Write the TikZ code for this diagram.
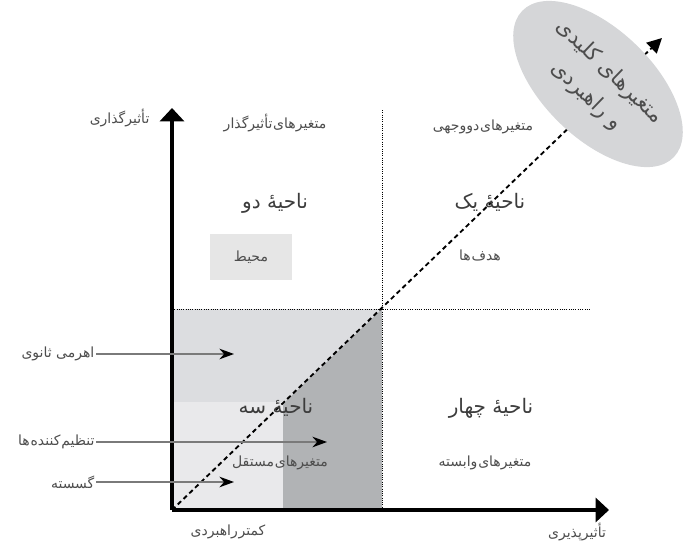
\documentclass[tikz,border=0pt]{standalone}
\usepackage{fontspec}
\newfontfamily\fa[Script=Arabic]{DejaVu Sans}
\TeXXeTstate=1
\usetikzlibrary{arrows.meta,shapes.geometric}
\definecolor{bandgray}{HTML}{DCDDE0}
\definecolor{palegray}{HTML}{E9E9EB}
\definecolor{deepgray}{HTML}{B1B3B5}
\definecolor{boxgray}{HTML}{E6E6E6}
\definecolor{ovalgray}{HTML}{D5D6D8}
\definecolor{inkgray}{HTML}{4D4D4D}
\definecolor{zonegray}{HTML}{3C3C3C}
\definecolor{wiregray}{HTML}{7A7A7A}
\begin{document}
\begin{tikzpicture}[x=0.75pt,y=-0.75pt,
  lbl/.style={font=\fa\fontsize{10.5}{12}\selectfont,text=inkgray,inner sep=1pt},
  zone/.style={font=\fa\fontsize{15}{17}\selectfont,text=zonegray},
  axis/.style={line width=2.3pt,-{Triangle[width=18pt,length=10pt]}},
  quad/.style={densely dotted,line width=0.7pt},
  pointer/.style={draw=wiregray,line width=0.8pt,-{Stealth[length=11pt,width=8pt,color=black]}}]
\useasboundingbox (0,0) rectangle (683,544);
\coordinate (O) at (172,510);
\coordinate (M) at (382,309);
\coordinate (yTip) at (172,108);
\coordinate (xTip) at (609,510);
\coordinate (dTip) at (662,38);
% shaded corner
\fill[bandgray] (O |- M) rectangle (382,402);
\fill[palegray] (172,402) rectangle (283,510);
\fill[deepgray] (M) -- (283,404) -- (283,510) -- (382,510) -- cycle;
% quadrant lines
\draw[quad] (382,110) -- (382,510);
\draw[quad] (O |- M) -- (590,309);
% diagonal
\draw[line width=1.4pt,dash pattern=on 3.5pt off 2.5pt,-{Triangle[width=11pt,length=11pt]}] (O) -- (dTip);
% axes
\draw[axis] (O) -- (yTip);
\draw[axis] (O) -- (xTip);
\node[lbl,anchor=east] (yLabel) at (151,118) {\beginR تأثیرگذاری\endR};
\node[lbl] (xLabel) at (577,532) {\beginR تأثیرپذیری\endR};
\node[lbl] (lowLabel) at (228,532) {\beginR کمتر\kern.6pt راهبردی\endR};
% key variables
\node[ellipse,fill=ovalgray,rotate=-44,minimum width=158pt,minimum height=82pt,inner sep=0pt,
  align=center,font=\fa\fontsize{16}{25}\selectfont,text=inkgray] (key) at (598,84)
  {\beginR متغیرهای کلیدی\endR\\\beginR و راهبردی\endR};
% zones
\node[lbl] (influent) at (275,123) {\beginR متغیرهای\kern.6pt تأثیرگذار\endR};
\node[lbl] (twoway) at (483,127) {\beginR متغیرهای\kern.6pt دووجهی\endR};
\node[zone] (zoneTwo) at (275,203) {\beginR ناحیهٔ دو\endR};
\node[zone] (zoneOne) at (490,202) {\beginR ناحیهٔ یک\endR};
\node[lbl,fill=boxgray,minimum width=62pt,minimum height=35pt] (env) at (251,257) {\beginR محیط\endR};
\node[lbl] (goals) at (480,255) {\beginR هدف\kern.6pt ها\endR};
\node[zone] (zoneThree) at (276,407) {\beginR ناحیهٔ سه\endR};
\node[zone] (zoneFour) at (491,408) {\beginR ناحیهٔ چهار\endR};
\node[lbl] (indep) at (280,463) {\beginR متغیرهای\kern.6pt مستقل\endR};
\node[lbl] (dep) at (485,463) {\beginR متغیرهای\kern.6pt وابسته\endR};
% pointers
\node[lbl,anchor=east] (lever) at (96,354) {\beginR اهرمی ثانوی\endR};
\node[lbl,anchor=east] (regul) at (96,442) {\beginR تنظیم\kern.6pt کننده\kern.6pt ها\endR};
\node[lbl,anchor=east] (discr) at (96,482) {\beginR گسسته\endR};
\coordinate (leverTip) at (234,354);
\coordinate (regulTip) at (327,442);
\coordinate (discrTip) at (234,482);
\draw[pointer] (lever) -- (leverTip);
\draw[pointer] (regul) -- (regulTip);
\draw[pointer] (discr) -- (discrTip);
\end{tikzpicture}
\end{document}
